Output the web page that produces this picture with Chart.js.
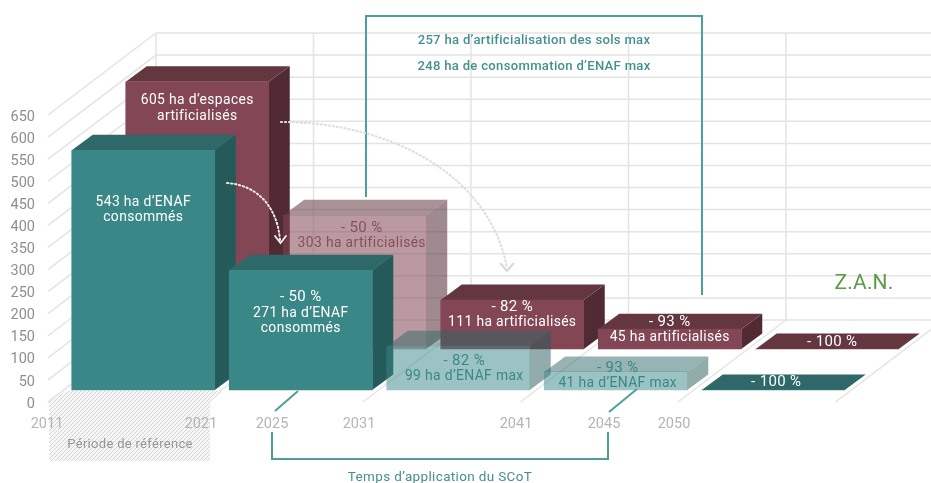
<!DOCTYPE html>
<html lang="fr">
<head>
<meta charset="utf-8">
<title>Trajectoire ZAN</title>
<script src="https://cdn.jsdelivr.net/npm/chart.js@4/dist/chart.umd.js"></script>
<style>
  html, body { margin: 0; padding: 0; background: #fff; }
  canvas { display: block; }
</style>
</head>
<body>
<canvas id="chart" width="931" height="483"></canvas>
<script>
const periods = ["2011-2021", "2021-2031", "2031-2041", "2041-2045", "2045-2050"];
const yearTicks = [2011, 2021, 2025, 2031, 2041, 2045, 2050];

const consumedEnaf = [543, 271, 99, 41, 0];
const artificialised = [605, 303, 111, 45, 0];

// planned bars are drawn see-through
const consumedPlanned = [false, false, true, true, false];
const artificialisedPlanned = [false, true, false, false, false];

const consumedLabels = [
  ["543 ha d’ENAF", "consommés"],
  ["- 50 %", "271 ha d’ENAF", "consommés"],
  ["- 82 %", "99 ha d’ENAF max"],
  ["- 93 %", "41 ha d’ENAF max"],
  ["- 100 %"],
];
const artificialisedLabels = [
  ["605 ha d’espaces", "artificialisés"],
  ["- 50 %", "303 ha artificialisés"],
  ["- 82 %", "111 ha artificialisés"],
  ["- 93 %", "45 ha artificialisés"],
  ["- 100 %"],
];

const FONT = "Roboto, sans-serif";
const TEAL = "#3a8787";
const LINE_TEAL = "#4f9d9c";

const rgba = (c, a) => `rgba(${c[0]},${c[1]},${c[2]},${a})`;
const faces = (planned, rgb, alpha) => planned.map((p) => rgba(rgb, p ? alpha : 1));

function strokePath(ctx, pts, color, width) {
  ctx.strokeStyle = color;
  ctx.lineWidth = width;
  ctx.beginPath();
  pts.forEach((p, i) => (i ? ctx.lineTo(p[0], p[1]) : ctx.moveTo(p[0], p[1])));
  ctx.stroke();
}

function fillPoly(ctx, pts, fill) {
  ctx.fillStyle = fill;
  ctx.beginPath();
  pts.forEach((p, i) => (i ? ctx.lineTo(p[0], p[1]) : ctx.moveTo(p[0], p[1])));
  ctx.closePath();
  ctx.fill();
}

function text(ctx, str, x, y, font, color, spacing) {
  ctx.font = font;
  ctx.fillStyle = color;
  ctx.letterSpacing = spacing || "0px";
  ctx.textAlign = "center";
  ctx.textBaseline = "middle";
  ctx.fillText(str, x, y);
  ctx.letterSpacing = "0px";
}

function hatch(ctx) {
  const tile = document.createElement("canvas");
  tile.width = tile.height = 4;
  const t = tile.getContext("2d");
  t.fillStyle = "#f6f6f6";
  t.fillRect(0, 0, 4, 4);
  strokePath(t, [[-1, 5], [5, -1]], "#d6d6d6", 1);
  strokePath(t, [[-1, 1], [1, -1]], "#d6d6d6", 1);
  strokePath(t, [[3, 5], [5, 3]], "#d6d6d6", 1);
  return ctx.createPattern(tile, "repeat");
}

// back wall, floor, reference period and the bracket behind the bars
const backdrop = {
  id: "backdrop",
  beforeDraw(chart) {
    const { ctx, scales } = chart;
    const y = scales.y, x = scales.x;
    const band = x.getPixelForValue(1) - x.getPixelForValue(0);
    const left = x.getPixelForValue(0) - band / 2 - 16.5;
    const dx = 108, dy = 82;
    const grey = "#e4e4e4";
    ctx.save();
    ctx.fillStyle = "#fff";
    ctx.fillRect(0, 0, chart.width, chart.height);
    y.ticks.forEach((t) => {
      const py = y.getPixelForValue(t.value);
      strokePath(ctx, [[left, py], [left + dx, py - dy], [chart.width, py - dy]], grey, 1.5);
    });
    const top = y.getPixelForValue(650) - dy, floor = y.getPixelForValue(0) - dy;
    for (let i = 0; i <= periods.length; i++) {
      const bx = left + dx + band * i;
      strokePath(ctx, [[bx, top], [bx, floor], [bx - dx, floor + dy]], grey, 1.5);
    }
    fillPoly(ctx, [[49, 402], [66, 391], [222, 391], [210, 402], [210, 461], [49, 461]], hatch(ctx));
    text(ctx, "Période de référence", 130, 445, "13px " + FONT, "#979797", "0.3px");
    strokePath(ctx, [[366, 197], [366, 16], [702, 16], [702, 295]], LINE_TEAL, 2);
    ctx.restore();
  },
};

// side and top faces of each bar; the library draws the front face
const boxes = {
  id: "boxes",
  beforeDatasetDraw(chart, args) {
    const { ctx } = chart;
    const ds = chart.data.datasets[args.index];
    const depth = chart.options.plugins.boxes;
    ctx.save();
    ctx.translate(ds.planeX, ds.planeY);
    args.meta.data.forEach((bar, i) => {
      const l = bar.x - bar.width / 2, r = bar.x + bar.width / 2;
      const t = bar.y, b = bar.base;
      if (b - t > 0.5) {
        fillPoly(ctx, [[r, t], [r + depth.dx, t - depth.dy], [r + depth.dx, b - depth.dy], [r, b]], ds.sideColors[i]);
      }
      fillPoly(ctx, [[l, t], [l + depth.dx, t - depth.dy], [r + depth.dx, t - depth.dy], [r, t]], ds.topColors[i]);
    });
  },
  afterDatasetDraw(chart) {
    chart.ctx.restore();
  },
};

// texts on the bars, arrows, brackets
const annotations = {
  id: "annotations",
  afterDatasetsDraw(chart) {
    const { ctx } = chart;
    const o = chart.options.plugins.annotations;
    ctx.save();
    chart.data.datasets.forEach((ds, d) => {
      const meta = chart.getDatasetMeta(d);
      meta.data.forEach((bar, i) => {
        const nudge = ds.labelNudge[i];
        ds.barLabels[i].forEach((line, n) => {
          // the percentages are set a little larger
          const font = (line[0] === "-" ? "15px " : "13.9px ") + FONT;
          text(ctx, line, bar.x + ds.planeX + nudge[0], bar.y + ds.planeY + nudge[1] + n * 15.7,
            font, ds.labelColors[i], "0.35px");
        });
      });
    });

    ctx.setLineDash([1.5, 2.5]);
    ctx.lineCap = "round";
    ctx.lineWidth = 2;
    ctx.strokeStyle = "#ececec";
    ctx.beginPath();
    ctx.moveTo(227, 183);
    ctx.bezierCurveTo(256, 185, 277, 205, 280, 240);
    ctx.stroke();
    ctx.lineWidth = 2.2;
    ctx.strokeStyle = "#dedede";
    ctx.setLineDash([1, 3]);
    ctx.beginPath();
    ctx.moveTo(281, 122);
    ctx.bezierCurveTo(390, 122, 490, 175, 507, 268);
    ctx.stroke();
    ctx.setLineDash([]);
    strokePath(ctx, [[275, 236], [280.5, 243], [286, 236]], "#f2f2f2", 1.8);
    strokePath(ctx, [[501, 264], [507, 271], [513, 264]], "#dadada", 2.4);
    ctx.lineCap = "butt";

    strokePath(ctx, [[298, 391], [275, 411]], LINE_TEAL, 2);
    strokePath(ctx, [[637, 389], [609, 412]], LINE_TEAL, 2);
    strokePath(ctx, [[272, 432], [272, 459], [608, 459], [608, 432]], LINE_TEAL, 2);

    text(ctx, "257 ha d’artificialisation des sols max", 534, 41, "500 13.1px " + FONT, "#45908f", "0.3px");
    text(ctx, "248 ha de consommation d’ENAF max", 534, 67, "500 13.1px " + FONT, "#45908f", "0.3px");
    text(ctx, "Temps d’application du SCoT", 440, 478, "13.5px " + FONT, "#45908f", "0.35px");
    text(ctx, "Z.A.N.", 864, 284, "21px " + FONT, o.zanColor, "0.2px");
    ctx.restore();
  },
};

new Chart(document.getElementById("chart"), {
  type: "bar",
  data: {
    labels: periods,
    datasets: [
      {
        // first dataset is painted last
        label: "ENAF consommés",
        data: consumedEnaf,
        backgroundColor: faces(consumedPlanned, [58, 135, 135], 0.5),
        sideColors: faces(consumedPlanned, [37, 90, 90], 0.5),
        topColors: faces(consumedPlanned, [47, 104, 104], 0.5),
        labelColors: consumedPlanned.map((p) => (p ? TEAL : "#fff")),
        barLabels: consumedLabels,
        labelNudge: [[0, 52], [0, 27], [6, 15], [2, -4], [3, -8]],
        planeX: 0,
        planeY: -12,
        clip: false,
        order: 1,
      },
      {
        label: "Espaces artificialisés",
        data: artificialised,
        backgroundColor: faces(artificialisedPlanned, [130, 70, 84], 0.55),
        sideColors: faces(artificialisedPlanned, [81, 42, 51], 0.55),
        topColors: faces(artificialisedPlanned, [99, 54, 64], 0.55),
        labelColors: artificialisedPlanned.map((p) => (p ? "#85505c" : "#fff")),
        barLabels: artificialisedLabels,
        labelNudge: [[0, 19], [7, 13], [0, 7], [0, -7], [5, -7]],
        planeX: 54,
        planeY: -53,
        clip: false,
        order: 2,
      },
    ],
  },
  options: {
    responsive: false,
    animation: false,
    events: [],
    grouped: false,
    barThickness: 143,
    layout: { padding: { top: 115, right: 79, bottom: 0, left: 0 } },
    plugins: {
      legend: { display: false },
      tooltip: { enabled: false },
      boxes: { dx: 21, dy: 15.5 },
      annotations: { zanColor: "#5b9b45" },
    },
    scales: {
      x: { type: "category", display: false, grid: { display: false } },
      y: {
        min: 0,
        max: 650,
        grid: { display: false, drawTicks: false },
        border: { display: false },
        ticks: { stepSize: 50, padding: 29.5, labelOffset: 2, color: "#8e8e8e", font: { family: FONT, size: 14.5 } },
        afterFit(scale) {
          scale.width = 64.5;
        },
      },
      years: {
        type: "linear",
        position: "bottom",
        min: 2011,
        max: 2050,
        grid: { display: false, drawTicks: false },
        border: { display: false },
        ticks: {
          autoSkip: false,
          maxRotation: 0,
          padding: 14,
          color: "#b4b4b4",
          font: { family: FONT, size: 14.5 },
          callback: (v) => String(v),
        },
        afterBuildTicks(scale) {
          // the years are not evenly spaced under the bars
          const at = [47, 201, 272, 359, 516, 604, 674];
          scale.ticks = yearTicks.map((value) => ({ value }));
          scale.getPixelForTick = (i) => at[i];
        },
        afterFit(scale) {
          scale.height = 81;
        },
      },
    },
  },
  plugins: [backdrop, boxes, annotations],
});
</script>
</body>
</html>
